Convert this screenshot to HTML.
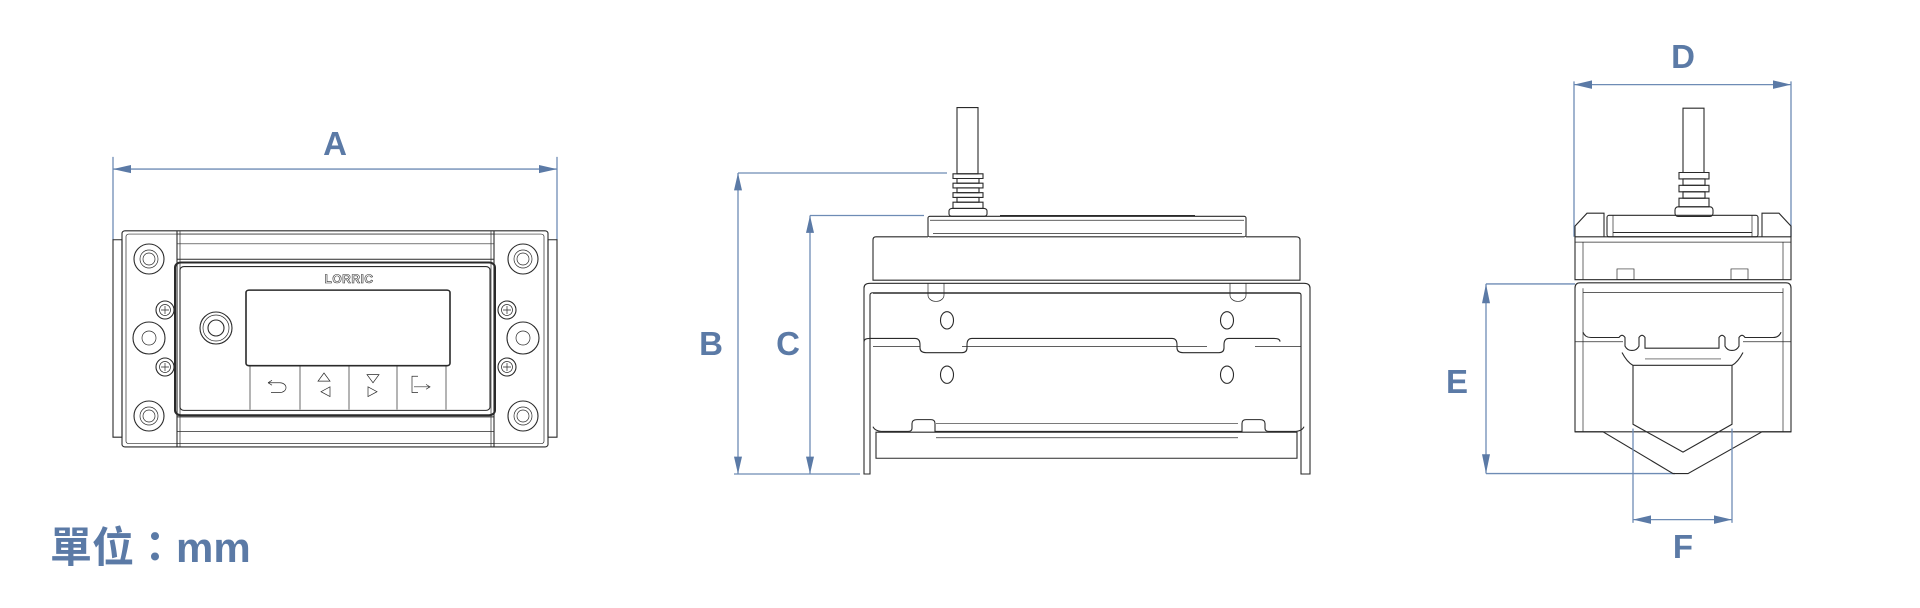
<!DOCTYPE html>
<html><head><meta charset="utf-8"><style>
html,body{margin:0;padding:0;background:#fff;width:1920px;height:608px;overflow:hidden}
svg{display:block}
svg *{vector-effect:non-scaling-stroke}
.l{fill:none;stroke:#2a2a2a;stroke-width:1.1}
.t{fill:none;stroke:#2a2a2a;stroke-width:0.7}
.d{fill:none;stroke:#6e8cb5;stroke-width:1.3}
.a{fill:#5b7aa6}
.lab{font-family:"Liberation Sans",sans-serif;font-weight:bold;font-size:33px;fill:#5b7aa6;text-anchor:middle}
</style></head><body>
<svg width="1920" height="608" viewBox="0 0 1920 608" xmlns="http://www.w3.org/2000/svg">
<!-- ============ FRONT VIEW ============ -->
<text class="lab" x="335" y="155">A</text>
<g transform="matrix(1,0,0,0.8125,0,18.75)">
<line class="d" x1="113" y1="185" x2="557" y2="185"/>
<line class="d" x1="113" y1="170" x2="113" y2="272"/>
<line class="d" x1="557" y1="170" x2="557" y2="272"/>
<polygon class="a" points="113,185 131,180 131,190"/>
<polygon class="a" points="557,185 539,180 539,190"/>
<rect class="l" x="113" y="272" width="9" height="243"/>
<rect class="l" x="548" y="272" width="9" height="243"/>
<rect class="l" x="122" y="261" width="426" height="266" rx="3"/>
<rect class="t" x="126" y="265" width="418" height="258" rx="3"/>
<line class="l" x1="177" y1="261" x2="177" y2="527"/>
<line class="l" x1="494" y1="261" x2="494" y2="527"/>
<line class="t" x1="180" y1="261" x2="180" y2="527"/>
<line class="t" x1="491" y1="261" x2="491" y2="527"/>
<line class="t" x1="177" y1="265" x2="494" y2="265"/>
<line class="t" x1="177" y1="277" x2="494" y2="277"/>
<line class="l" x1="177" y1="296" x2="494" y2="296"/>
<line class="l" x1="177" y1="490" x2="494" y2="490"/>
<line class="t" x1="177" y1="508" x2="494" y2="508"/>
<line class="t" x1="177" y1="523" x2="494" y2="523"/>
<rect class="l" x="175" y="300" width="320" height="188" rx="6" style="stroke-width:2"/>
<rect class="l" x="180" y="305" width="310" height="177" rx="4"/>
<rect class="l" x="246" y="334" width="204" height="93" rx="3" style="stroke-width:1.6"/>
<line class="t" x1="250" y1="427" x2="250" y2="481"/>
<line class="t" x1="300" y1="427" x2="300" y2="481"/>
<line class="t" x1="349" y1="427" x2="349" y2="481"/>
<line class="t" x1="397" y1="427" x2="397" y2="481"/>
<line class="t" x1="446" y1="427" x2="446" y2="481"/>
<path class="t" d="M268,448 h12 a6,6 0 0 1 0,12 h-9 M268,448 l4,-3 M268,448 l4,3"/>
<polygon class="t" points="324,436 330,446 318,446"/>
<polygon class="t" points="330,453 330,465 321,459"/>
<polygon class="t" points="367,438 379,438 373,448"/>
<polygon class="t" points="368,453 368,465 377,459"/>
<path class="t" d="M418,440 h-6 v20 h6 M414,453 h15 M426,450 l4,3 -4,3"/>
</g>
<text x="349" y="283" font-family="Liberation Sans,sans-serif" font-size="12" font-weight="bold" fill="none" stroke="#333" stroke-width="0.6" text-anchor="middle" letter-spacing="0.5">LORRIC</text>
<circle class="l" cx="216" cy="328" r="16"/>
<circle class="t" cx="216" cy="328" r="13"/>
<circle class="l" cx="216" cy="328" r="8"/>
<g>
<circle class="l" cx="149" cy="259" r="15"/><circle class="t" cx="149" cy="259" r="9"/><circle class="t" cx="149" cy="259" r="6"/>
<circle class="l" cx="523" cy="259" r="15"/><circle class="t" cx="523" cy="259" r="9"/><circle class="t" cx="523" cy="259" r="6"/>
<circle class="l" cx="149" cy="416" r="15"/><circle class="t" cx="149" cy="416" r="9"/><circle class="t" cx="149" cy="416" r="6"/>
<circle class="l" cx="523" cy="416" r="15"/><circle class="t" cx="523" cy="416" r="9"/><circle class="t" cx="523" cy="416" r="6"/>
<circle class="l" cx="149" cy="338" r="16"/><circle class="t" cx="149" cy="338" r="7"/>
<circle class="l" cx="523" cy="338" r="16"/><circle class="t" cx="523" cy="338" r="7"/>
</g>
<g>
<circle class="l" cx="165" cy="310" r="9"/><circle class="t" cx="165" cy="310" r="5.5"/><path class="t" d="M161,310h8M165,306v8"/>
<circle class="l" cx="165" cy="367" r="9"/><circle class="t" cx="165" cy="367" r="5.5"/><path class="t" d="M161,367h8M165,363v8"/>
<circle class="l" cx="507" cy="310" r="9"/><circle class="t" cx="507" cy="310" r="5.5"/><path class="t" d="M503,310h8M507,306v8"/>
<circle class="l" cx="507" cy="367" r="9"/><circle class="t" cx="507" cy="367" r="5.5"/><path class="t" d="M503,367h8M507,363v8"/>
</g>

<!-- ============ SIDE VIEW ============ -->
<text class="lab" x="711" y="355">B</text>
<text class="lab" x="788" y="355">C</text>
<g transform="matrix(1,0,0,0.788,0,16.96)">
<line class="d" x1="738" y1="198" x2="947" y2="198"/>
<line class="d" x1="738" y1="198" x2="738" y2="580"/>
<polygon class="a" points="738,198 734,220 742,220"/>
<polygon class="a" points="738,580 734,558 742,558"/>
<line class="d" x1="810" y1="252" x2="924" y2="252"/>
<line class="d" x1="810" y1="252" x2="810" y2="580"/>
<polygon class="a" points="810,252 806,274 814,274"/>
<polygon class="a" points="810,580 806,558 814,558"/>
<line class="d" x1="734" y1="580" x2="860" y2="580"/>
<rect class="l" x="957" y="115" width="21" height="84"/>
<rect class="l" x="953" y="199" width="30" height="6"/>
<rect class="l" x="957" y="205" width="22" height="6"/>
<rect class="l" x="953" y="211" width="30" height="6"/>
<rect class="l" x="957" y="217" width="22" height="6"/>
<rect class="l" x="953" y="223" width="30" height="6"/>
<rect class="l" x="957" y="229" width="22" height="6"/>
<rect class="l" x="953" y="235" width="30" height="8"/>
<rect class="l" x="949" y="243" width="38" height="10" rx="3"/>
<rect class="l" x="928" y="253" width="318" height="26" rx="2"/>
<line class="t" x1="930" y1="258" x2="1244" y2="258"/>
<line class="l" x1="1000" y1="252" x2="1195" y2="252"/>
<path class="l" d="M928,279 h-52 q-3,0 -3,4 v51 h427 v-51 q0,-4 -4,-4 h-50"/>
<line class="t" x1="933" y1="275" x2="1242" y2="275"/>
<path class="l" d="M864,580 v-236 q0,-6 6,-6 h434 q6,0 6,6 v236 h-9 v-227 q0,-3 -3,-3 h-425 q-3,0 -3,3 v227 z"/>
<line class="t" x1="873" y1="351" x2="1301" y2="351"/>
<path class="t" d="M928,338 v15 a8,8 0 0 0 16,0 v-15"/>
<path class="t" d="M1230,338 v15 a8,8 0 0 0 16,0 v-15"/>
<path class="l" d="M864,412 q0,-4 6,-4 h45 q5,0 5,8 v4 q0,6 6,6 h36 q5,0 5,-6 v-4 q0,-8 5,-8 h200 q5,0 5,8 v4 q0,6 6,6 h36 q5,0 5,-6 v-4 q0,-8 5,-8 h45 q6,0 6,4"/>
<line class="t" x1="873" y1="418" x2="920" y2="418"/>
<line class="t" x1="962" y1="418" x2="1207" y2="418"/>
<line class="t" x1="1255" y1="418" x2="1301" y2="418"/>
<ellipse class="l" cx="947" cy="385" rx="6.5" ry="11"/>
<ellipse class="l" cx="1227" cy="385" rx="6.5" ry="11"/>
<ellipse class="l" cx="947" cy="454" rx="6.5" ry="11"/>
<ellipse class="l" cx="1227" cy="454" rx="6.5" ry="11"/>
<path class="l" d="M873,520 q2,6 10,6 h25 q4,0 4,-4 v-6 q0,-5 5,-5 h14 q4,0 4,5 v10 h307 v-10 q0,-5 4,-5 h14 q5,0 5,5 v6 q0,4 4,4 h25 q8,0 10,-6"/>
<line class="t" x1="936" y1="516" x2="1238" y2="516"/>
<rect class="l" x="876" y="527" width="421" height="33"/>
<line class="t" x1="936" y1="534" x2="1238" y2="534"/>
</g>

<!-- ============ END VIEW ============ -->
<text class="lab" x="1683" y="68">D</text>
<text class="lab" x="1457" y="393">E</text>
<text class="lab" x="1683" y="558">F</text>
<g transform="matrix(1,0,0,1.0714,0,-2.14)">
<line class="d" x1="1574" y1="81" x2="1791" y2="81"/>
<line class="d" x1="1574" y1="78" x2="1574" y2="223"/>
<line class="d" x1="1791" y1="78" x2="1791" y2="223"/>
<polygon class="a" points="1574,81 1592,77 1592,85"/>
<polygon class="a" points="1791,81 1773,77 1773,85"/>
<rect class="l" x="1683" y="103" width="21" height="60"/>
<rect class="l" x="1679" y="163" width="30" height="6"/>
<rect class="l" x="1683" y="169" width="22" height="6"/>
<rect class="l" x="1679" y="175" width="30" height="6"/>
<rect class="l" x="1683" y="181" width="22" height="6"/>
<rect class="l" x="1679" y="187" width="30" height="8"/>
<rect class="l" x="1675" y="195" width="38" height="9" rx="3"/>
<rect class="l" x="1607" y="203" width="151" height="20" rx="2"/>
<line class="t" x1="1613" y1="203" x2="1613" y2="223"/>
<line class="t" x1="1752" y1="203" x2="1752" y2="223"/>
<line class="l" x1="1613" y1="219" x2="1752" y2="219"/>
<path class="l" d="M1575,223 v-10 l12,-12 h17 v22"/>
<path class="l" d="M1791,223 v-10 l-12,-12 h-17 v22"/>
<rect class="l" x="1575" y="223" width="216" height="40"/>
<line class="t" x1="1575" y1="228" x2="1791" y2="228"/>
<line class="t" x1="1583" y1="228" x2="1583" y2="263"/>
<line class="t" x1="1783" y1="228" x2="1783" y2="263"/>
<rect class="t" x="1617" y="253" width="17" height="10"/>
<rect class="t" x="1731" y="253" width="17" height="10"/>
<line class="d" x1="1486" y1="267" x2="1575" y2="267"/>
<line class="d" x1="1486" y1="267" x2="1486" y2="444"/>
<line class="d" x1="1486" y1="444" x2="1675" y2="444"/>
<polygon class="a" points="1486,267 1482,285 1490,285"/>
<polygon class="a" points="1486,444 1482,426 1490,426"/>
<path class="l" d="M1575,405 v-134 q0,-5 5,-5 h206 q5,0 5,5 v134 z"/>
<line class="t" x1="1583" y1="271" x2="1583" y2="405"/>
<line class="t" x1="1783" y1="271" x2="1783" y2="405"/>
<line class="t" x1="1583" y1="275" x2="1783" y2="275"/>
<path class="l" d="M1583,312 q2,5 8,5 h28 q3,-4 6,0 v8 a8,8 0 0 0 14,0 v-8 q3,-4 6,0 v10 h74 v-10 q3,-4 6,0 v8 a8,8 0 0 0 14,0 v-8 q3,-4 6,0 h28 q6,0 8,-5"/>
<line class="t" x1="1575" y1="321" x2="1623" y2="321"/>
<line class="t" x1="1743" y1="321" x2="1791" y2="321"/>
<path class="l" d="M1622,331 q5,9 11,12 h99 q6,-3 11,-12"/>
<line class="t" x1="1645" y1="337" x2="1721" y2="337"/>
<path class="l" d="M1575,405 h28 l70,39 h15 l74,-39 h29"/>
<path class="l" d="M1633,343 v55 l50,26 l49,-26 v-55"/>
<line class="d" x1="1633" y1="402" x2="1633" y2="490"/>
<line class="d" x1="1732" y1="402" x2="1732" y2="490"/>
<line class="d" x1="1633" y1="487" x2="1732" y2="487"/>
<polygon class="a" points="1633,487 1651,483 1651,491"/>
<polygon class="a" points="1732,487 1714,483 1714,491"/>
</g>

<text x="50" y="562" font-family="Liberation Sans,Noto Sans CJK TC,sans-serif" font-weight="bold" font-size="42" fill="#5b7aa6">單位：mm</text>
</svg>
</body></html>
